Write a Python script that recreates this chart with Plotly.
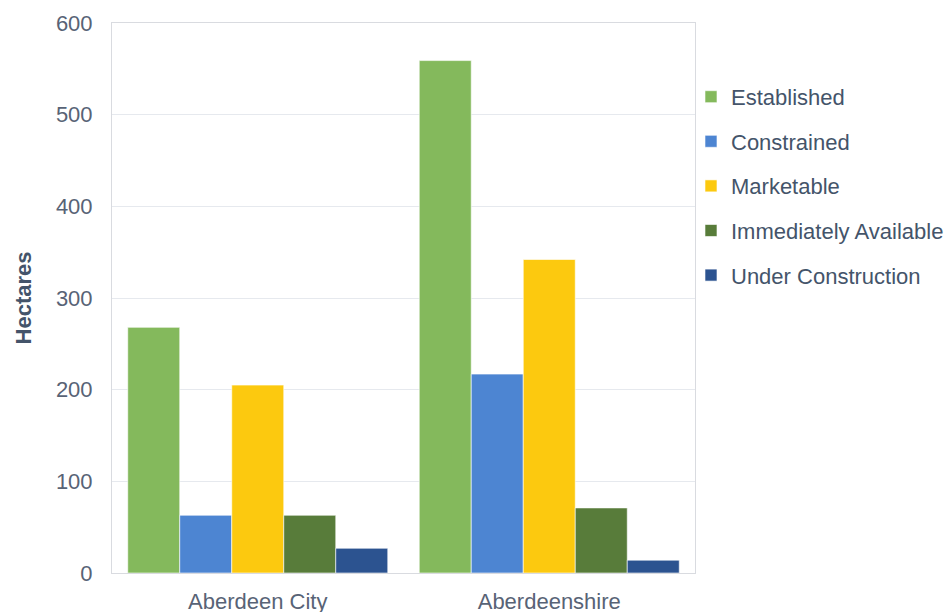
import plotly.graph_objects as go

categories = ["Aberdeen City", "Aberdeenshire"]
series_names = ["Established", "Constrained", "Marketable", "Immediately Available", "Under Construction"]
established = [268, 559]
constrained = [63, 217]
marketable = [205, 342]
immediately_available = [63, 71]
under_construction = [27, 14]
y_ticks = [0, 100, 200, 300, 400, 500, 600]

values = [established, constrained, marketable, immediately_available, under_construction]
colors = ["#84b95c", "#4d85d2", "#fcc90f", "#587c3a", "#2c5390"]

fig = go.Figure()
for name, vals, col in zip(series_names, values, colors):
    fig.add_trace(go.Bar(
        x=categories, y=vals, name=name, legendgroup=name,
        marker=dict(color=col, line=dict(color="rgba(255,255,255,0.6)", width=1)),
    ))

font_family = "Liberation Sans, Arial, sans-serif"
fig.update_layout(
    width=951, height=612,
    margin=dict(l=112, r=256, t=23, b=39, autoexpand=False),
    paper_bgcolor="white", plot_bgcolor="white",
    barmode="group", bargap=0.108, bargroupgap=0,
    font=dict(family=font_family, size=22, color="#586376"),
    legend=dict(
        xref="container", yref="container",
        x=0.7266, y=0.876, xanchor="left", yanchor="top",
        traceorder="grouped", tracegroupgap=13,
        font=dict(size=22, color="#44546a"),
        itemwidth=30, bgcolor="rgba(0,0,0,0)",
    ),
    showlegend=True,
)
fig.update_yaxes(
    range=[0, 600], tickvals=y_ticks, ticktext=[str(v) for v in y_ticks],
    showgrid=True, gridcolor="#e6e9ee", gridwidth=1,
    zeroline=False, showline=True, linecolor="#d9dbe0", mirror=True,
    ticklabelstandoff=14, automargin=False,
    title=dict(text="<b>Hectares</b>", font=dict(size=22, color="#44546a"), standoff=18),
    tickfont=dict(size=22, color="#586376"),
)
fig.update_xaxes(
    showline=True, linecolor="#d9dbe0", mirror=True,
    tickfont=dict(size=22, color="#586376"),
    ticklabelstandoff=9, automargin=False,
)
fig.write_html("out.html")
